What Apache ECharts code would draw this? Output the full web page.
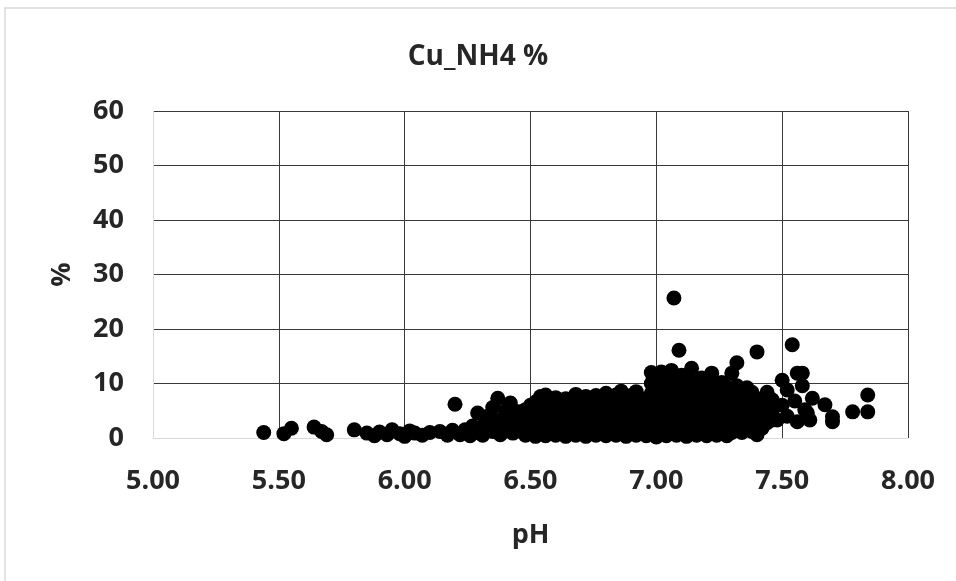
<!DOCTYPE html>
<html>
<head>
<meta charset="utf-8">
<title>Cu_NH4 %</title>
<script src="https://cdn.jsdelivr.net/npm/echarts@6/dist/echarts.min.js"></script>
<style>
  html, body { margin: 0; padding: 0; background: #fff; }
  #chart { width: 956px; height: 581px; }
</style>
</head>
<body>
<div id="chart"></div>
<script>
// values: [pH, %]
const lowPh = [
  [5.44, 1.0], [5.52, 0.8], [5.55, 1.8], [5.64, 2.0], [5.67, 1.2], [5.69, 0.6],
  [5.80, 1.5], [5.85, 0.9], [5.88, 0.4], [5.90, 1.1], [5.93, 0.6], [5.95, 1.5],
  [5.98, 0.8], [6.00, 0.3], [6.02, 1.3], [6.04, 0.9], [6.07, 0.5], [6.10, 1.0],
  [6.14, 1.2], [6.17, 0.5], [6.19, 1.4]
];

const midPh = [
  [6.20, 6.2], [6.22, 0.6], [6.24, 1.5], [6.26, 0.4], [6.27, 2.2], [6.29, 4.6],
  [6.29, 1.0], [6.31, 0.5], [6.32, 2.8], [6.33, 4.0], [6.35, 1.2], [6.35, 5.6],
  [6.37, 7.3], [6.37, 3.2], [6.38, 0.6], [6.40, 5.0], [6.40, 2.0], [6.42, 6.4],
  [6.42, 3.6], [6.43, 0.9], [6.45, 2.4], [6.45, 4.8], [6.46, 1.3]
];

const densePh = [
  [6.48, 0.5], [6.48, 2.0], [6.48, 3.6], [6.48, 5.2],
  [6.50, 1.2], [6.50, 2.8], [6.50, 4.4], [6.50, 6.0],
  [6.52, 0.3], [6.52, 1.9], [6.52, 3.5], [6.52, 5.0], [6.52, 6.6],
  [6.54, 1.0], [6.54, 2.6], [6.54, 4.2], [6.54, 7.6],
  [6.56, 0.4], [6.56, 2.0], [6.56, 3.6], [6.56, 5.4], [6.56, 7.9],
  [6.58, 1.1], [6.58, 2.7], [6.58, 4.4], [6.58, 6.2],
  [6.60, 0.5], [6.60, 2.1], [6.60, 3.7], [6.60, 5.3], [6.60, 7.4],
  [6.62, 1.3], [6.62, 2.9], [6.62, 4.6], [6.62, 6.4],
  [6.64, 0.3], [6.64, 1.8], [6.64, 3.4], [6.64, 5.0], [6.64, 7.2],
  [6.66, 1.0], [6.66, 2.6], [6.66, 4.2], [6.66, 5.8],
  [6.68, 0.5], [6.68, 2.2], [6.68, 3.8], [6.68, 5.5], [6.68, 8.0],
  [6.70, 1.2], [6.70, 2.9], [6.70, 4.5], [6.70, 6.4],
  [6.72, 0.3], [6.72, 1.9], [6.72, 3.5], [6.72, 5.1], [6.72, 7.6],
  [6.74, 1.0], [6.74, 2.6], [6.74, 4.3], [6.74, 6.0],
  [6.76, 0.5], [6.76, 2.1], [6.76, 3.7], [6.76, 5.4], [6.76, 7.8],
  [6.78, 1.3], [6.78, 2.9], [6.78, 4.6], [6.78, 6.4],
  [6.80, 0.4], [6.80, 2.0], [6.80, 3.6], [6.80, 5.2], [6.80, 8.2],
  [6.82, 1.1], [6.82, 2.7], [6.82, 4.4], [6.82, 6.2],
  [6.84, 0.5], [6.84, 2.2], [6.84, 3.8], [6.84, 5.5], [6.84, 7.9],
  [6.86, 1.2], [6.86, 2.9], [6.86, 4.6], [6.86, 6.6], [6.86, 8.6],
  [6.88, 0.3], [6.88, 1.9], [6.88, 3.5], [6.88, 5.2],
  [6.90, 1.0], [6.90, 2.6], [6.90, 4.3], [6.90, 6.0], [6.90, 7.8],
  [6.92, 0.5], [6.92, 2.2], [6.92, 3.8], [6.92, 5.5], [6.92, 8.5],
  [6.94, 1.3], [6.94, 2.9], [6.94, 4.6], [6.94, 6.4],
  [6.96, 0.4], [6.96, 2.0], [6.96, 3.6], [6.96, 5.3], [6.96, 7.2]
];

const highPh = [
  [6.98, 1.0], [6.98, 2.8], [6.98, 4.6], [6.98, 6.4], [6.98, 8.2], [6.98, 10.0], [6.98, 12.0],
  [7.00, 0.2], [7.00, 1.8], [7.00, 3.6], [7.00, 5.4], [7.00, 7.2], [7.00, 9.0], [7.00, 11.0],
  [7.02, 1.0], [7.02, 2.7], [7.02, 4.5], [7.02, 6.3], [7.02, 8.4], [7.02, 12.1],
  [7.04, 0.4], [7.04, 2.0], [7.04, 3.8], [7.04, 5.6], [7.04, 7.4], [7.04, 9.6], [7.04, 11.2],
  [7.06, 1.2], [7.06, 2.9], [7.06, 4.7], [7.06, 6.5], [7.06, 8.6], [7.06, 12.4],
  [7.07, 25.7],
  [7.08, 0.5], [7.08, 2.2], [7.08, 4.0], [7.08, 5.8], [7.08, 7.6], [7.08, 10.2],
  [7.09, 16.1],
  [7.10, 1.1], [7.10, 2.8], [7.10, 4.6], [7.10, 6.4], [7.10, 8.5], [7.10, 11.5],
  [7.12, 0.3], [7.12, 2.0], [7.12, 3.8], [7.12, 5.6], [7.12, 7.5], [7.12, 9.4],
  [7.14, 1.0], [7.14, 2.7], [7.14, 4.5], [7.14, 6.3], [7.14, 8.2], [7.14, 10.4], [7.14, 12.8],
  [7.16, 0.5], [7.16, 2.2], [7.16, 4.0], [7.16, 5.8], [7.16, 7.6], [7.16, 9.6],
  [7.18, 1.2], [7.18, 2.9], [7.18, 4.7], [7.18, 6.5], [7.18, 8.4], [7.18, 11.0],
  [7.20, 0.4], [7.20, 2.0], [7.20, 3.8], [7.20, 5.6], [7.20, 7.4], [7.20, 9.4],
  [7.22, 1.0], [7.22, 2.8], [7.22, 4.6], [7.22, 6.4], [7.22, 8.3], [7.22, 10.4], [7.22, 11.9],
  [7.24, 0.5], [7.24, 2.2], [7.24, 4.0], [7.24, 5.8], [7.24, 7.7],
  [7.26, 1.2], [7.26, 2.9], [7.26, 4.7], [7.26, 6.5], [7.26, 8.5], [7.26, 10.2],
  [7.28, 0.4], [7.28, 2.1], [7.28, 3.9], [7.28, 5.7], [7.28, 7.6], [7.28, 9.4],
  [7.30, 1.0], [7.30, 2.8], [7.30, 4.6], [7.30, 6.4], [7.30, 8.4], [7.30, 11.9],
  [7.32, 1.8], [7.32, 3.6], [7.32, 5.4], [7.32, 7.3], [7.32, 9.6], [7.32, 13.8],
  [7.34, 1.0], [7.34, 2.7], [7.34, 4.5], [7.34, 6.3], [7.34, 8.2],
  [7.36, 2.0], [7.36, 3.8], [7.36, 5.6], [7.36, 7.4], [7.36, 9.2],
  [7.38, 1.2], [7.38, 3.0], [7.38, 4.8], [7.38, 6.6], [7.38, 8.4],
  [7.40, 0.6], [7.40, 2.5], [7.40, 4.2], [7.40, 6.0], [7.40, 15.8],
  [7.42, 1.8], [7.42, 3.6], [7.42, 5.4], [7.42, 7.2],
  [7.44, 2.8], [7.44, 4.6], [7.44, 6.4], [7.44, 8.4],
  [7.46, 3.3], [7.46, 5.2], [7.46, 7.0]
];

const tailPh = [
  [7.48, 3.3], [7.50, 10.6], [7.50, 6.0], [7.52, 8.8], [7.52, 4.0], [7.54, 17.1],
  [7.55, 6.8], [7.56, 11.9], [7.56, 3.0], [7.58, 11.9], [7.58, 9.6], [7.59, 5.2],
  [7.60, 4.6], [7.61, 3.3], [7.62, 7.3], [7.67, 6.1], [7.70, 3.9], [7.70, 3.0],
  [7.78, 4.8], [7.84, 7.9], [7.84, 4.8]
];

const allPoints = lowPh.concat(midPh, densePh, highPh, tailPh);

const textColor = "#262626";
const fontFamily = "'Open Sans', sans-serif";

const chart = echarts.init(document.getElementById("chart"), null, {renderer: "canvas"});

const option = {
  backgroundColor: "#fff",
  animation: false,
  title: {
    text: "Cu_NH4 %",
    left: "center",
    top: 38,
    textStyle: {fontFamily: fontFamily, fontWeight: "bold", fontSize: 28, color: textColor}
  },
  graphic: [{
    type: "rect",
    shape: {x: 5, y: 8, width: 970, height: 600},
    style: {fill: "none", stroke: "#d9d9d9", lineWidth: 1.5},
    silent: true,
    z: -10
  }],
  grid: {left: 153, right: 48, top: 111, bottom: 143},
  xAxis: {
    type: "value",
    min: 5,
    max: 8,
    interval: 0.5,
    name: "pH",
    nameLocation: "middle",
    nameGap: 84,
    nameTextStyle: {fontFamily: fontFamily, fontWeight: "bold", fontSize: 27, color: textColor},
    axisLine: {show: true, lineStyle: {color: "#d9d9d9", width: 1}},
    axisTick: {show: false},
    axisLabel: {
      margin: 30,
      fontFamily: fontFamily, fontWeight: "bold", fontSize: 27, color: textColor,
      formatter: (v) => v.toFixed(2)
    },
    splitLine: {show: true, showMinLine: false, lineStyle: {color: "#3a3a3a", width: 1}}
  },
  yAxis: {
    type: "value",
    min: 0,
    max: 60,
    interval: 10,
    name: "%",
    nameLocation: "middle",
    nameGap: 77,
    nameRotate: 90,
    nameTextStyle: {fontFamily: fontFamily, fontWeight: "bold", fontSize: 27, color: textColor},
    axisLine: {show: true, lineStyle: {color: "#d9d9d9", width: 1}},
    axisTick: {show: false},
    axisLabel: {
      margin: 29,
      fontFamily: fontFamily, fontWeight: "bold", fontSize: 27, color: textColor
    },
    splitLine: {show: true, showMinLine: false, lineStyle: {color: "#3a3a3a", width: 1}}
  },
  series: [{
    type: "scatter",
    data: allPoints,
    symbol: "circle",
    symbolSize: 15,
    itemStyle: {color: "#000", opacity: 1},
    clip: false
  }]
};

chart.setOption(option);
</script>
</body>
</html>
